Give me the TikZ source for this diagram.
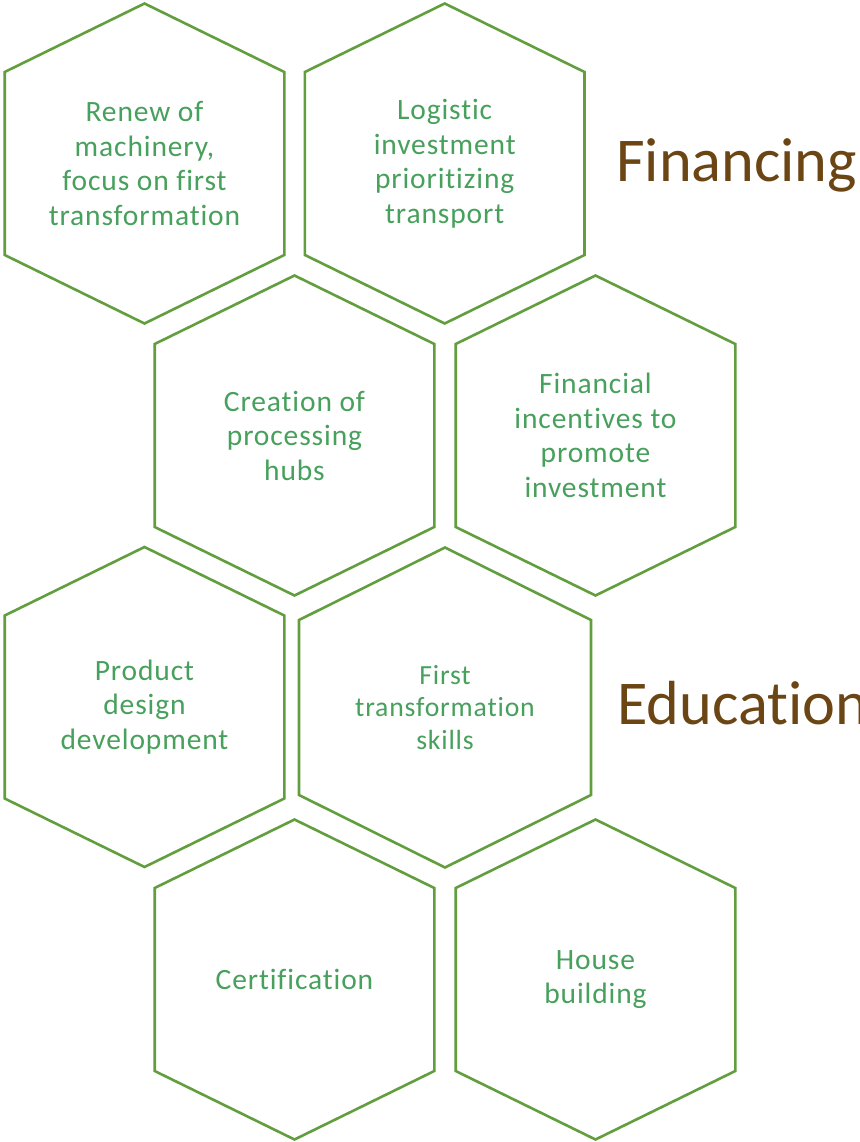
\documentclass[tikz,border=0pt]{standalone}
\usepackage{fontspec}
\setmainfont{Carlito}[Ligatures=NoCommon]
\newfontfamily\hexfont{Carlito}[Ligatures=NoCommon, LetterSpace=3]
\definecolor{hexline}{HTML}{629E3E}
\definecolor{hextext}{HTML}{47A05C}
\definecolor{titlebrown}{HTML}{6B4514}
\tikzset{
  hexline/.style={draw=hexline, line width=2.6pt, line join=miter},
  hexlabel/.style={text=hextext, align=center, inner sep=0pt, font=\hexfont\fontsize{29.5}{34.5}\selectfont},
  hexsmall/.style={hexlabel, font=\hexfont\fontsize{27.7}{32.3}\selectfont},
  titletext/.style={text=titlebrown, anchor=base west, inner sep=0pt, font=\fontsize{62.3}{70}\selectfont}
}
% #1 name, #2 cx, #3 cy, #4 half width, #5 shoulder offset
\newcommand\hexcell[5]{%
  \draw[hexline] ({#2},{#3-160}) -- ({#2+#4},{#3-#5}) -- ({#2+#4},{#3+#5}) --
    ({#2},{#3+160}) -- ({#2-#4},{#3+#5}) -- ({#2-#4},{#3-#5}) -- cycle;
  \coordinate (#1) at ({#2},{#3});
}
\begin{document}
\begin{tikzpicture}[x=1pt,y=-1pt]
\useasboundingbox[fill=white] (0,0) rectangle (859,1142);
\hexcell{h1}{144.5}{163.5}{139.8}{91.5}
\hexcell{h2}{444.7}{163.5}{139.8}{91.5}
\hexcell{h3}{294.5}{435.5}{139.8}{91.5}
\hexcell{h4}{595.5}{435.5}{139.8}{91.5}
\hexcell{h5}{144.5}{707}{139.8}{91.5}
\hexcell{h6}{445}{707.5}{146}{87.5}
\hexcell{h7}{294.5}{979.5}{139.8}{91.5}
\hexcell{h8}{595.5}{979.5}{139.8}{91.5}
\node[hexlabel] (t1) at (h1) {Renew of\\machinery,\\focus on first\\transformation};
\node[hexlabel] (t2) at (h2) {Logistic\\investment\\prioritizing\\transport};
\node[hexlabel] (t3) at (h3) {Creation of\\processing\\hubs};
\node[hexlabel] (t4) at (h4) {Financial\\incentives to\\promote\\investment};
\node[hexlabel] (t5) at (h5) {Product\\design\\development};
\node[hexsmall] (t6) at (h6) {First\\transformation\\skills};
\node[hexlabel] (t7) at (h7) {Certification};
\node[hexlabel] (t8) at (h8) {House\\building};
\node[titletext] (fin) at (616,182) {Financing};
\node[titletext] (edu) at (617,724.5) {Education};
\end{tikzpicture}
\end{document}
